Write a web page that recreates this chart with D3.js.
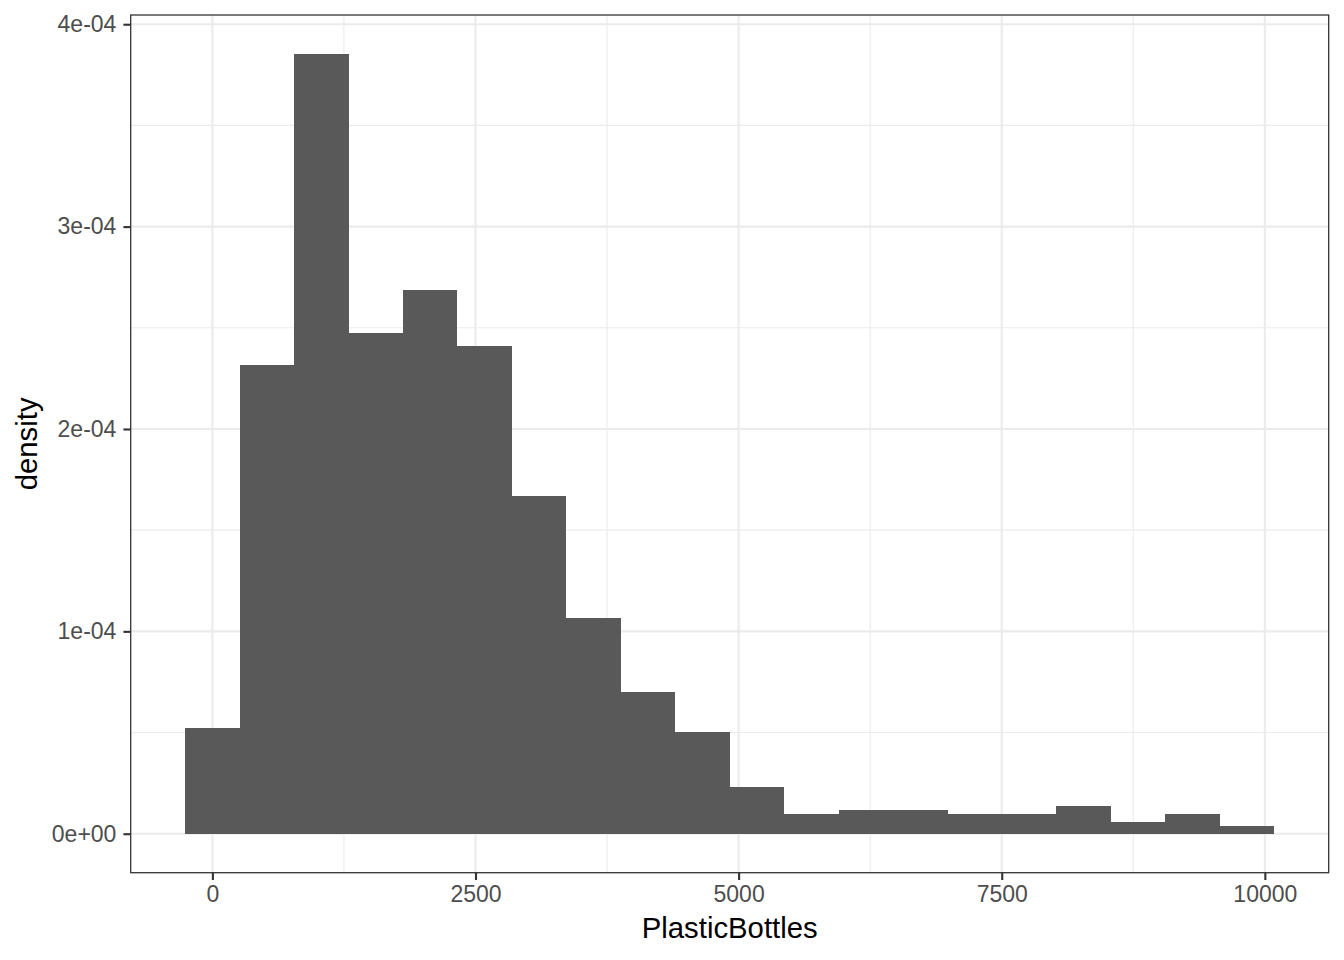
<!DOCTYPE html>
<html>
<head>
<meta charset="utf-8">
<script src="https://cdn.jsdelivr.net/npm/d3@7"></script>
<style>
  html, body { margin: 0; padding: 0; background: #fff; }
  svg { display: block; }
  text { font-family: "Liberation Sans", Arial, Helvetica, sans-serif; }
</style>
</head>
<body>
<svg id="chart" width="1344" height="960"></svg>
<script>
// ---- data ----
const binWidth = 517.4;           // PlasticBottles units per bin
const firstBinCenter = 0;
const densities = [
  0.523e-4, 2.318e-4, 3.853e-4, 2.472e-4, 2.688e-4,
  2.411e-4, 1.671e-4, 1.068e-4, 0.698e-4, 0.505e-4,
  0.229e-4, 0.095e-4, 0.115e-4, 0.115e-4, 0.095e-4,
  0.095e-4, 0.135e-4, 0.056e-4, 0.095e-4, 0.036e-4
];
const xTickValues = [0, 2500, 5000, 7500, 10000];
const xTickLabels = ["0", "2500", "5000", "7500", "10000"];
const xMinorValues = [1250, 3750, 6250, 8750];
const yTickValues = [0, 1e-4, 2e-4, 3e-4, 4e-4];
const yTickLabels = ["0e+00", "1e-04", "2e-04", "3e-04", "4e-04"];
const yMinorValues = [0.5e-4, 1.5e-4, 2.5e-4, 3.5e-4];
const xTitle = "PlasticBottles";
const yTitle = "density";

// ---- layout ----
const panel = { left: 130.7, top: 15, right: 1328.7, bottom: 872.7 };

const bins = densities.map((d, i) => {
  const c = firstBinCenter + i * binWidth;
  return { x0: c - binWidth / 2, x1: c + binWidth / 2, d };
});

const xMin = bins[0].x0, xMax = bins[bins.length - 1].x1;
const xPad = (xMax - xMin) * 0.05;
const x = d3.scaleLinear().domain([xMin - xPad, xMax + xPad]).range([panel.left, panel.right]);
const yMaxVal = d3.max(densities);
const yPad = yMaxVal * 0.05;
const y = d3.scaleLinear().domain([-yPad, yMaxVal + yPad]).range([panel.bottom, panel.top]);

const svg = d3.select("#chart");

// panel background
svg.append("rect").attr("x", panel.left).attr("y", panel.top)
  .attr("width", panel.right - panel.left).attr("height", panel.bottom - panel.top)
  .attr("fill", "#ffffff");

const grid = svg.append("g");
// minor grid
grid.selectAll("line.xminor").data(xMinorValues).join("line")
  .attr("x1", d => x(d)).attr("x2", d => x(d)).attr("y1", panel.top).attr("y2", panel.bottom)
  .attr("stroke", "#EBEBEB").attr("stroke-width", 1.1);
grid.selectAll("line.yminor").data(yMinorValues).join("line")
  .attr("y1", d => y(d)).attr("y2", d => y(d)).attr("x1", panel.left).attr("x2", panel.right)
  .attr("stroke", "#EBEBEB").attr("stroke-width", 1.1);
// major grid
grid.selectAll("line.xmajor").data(xTickValues).join("line")
  .attr("x1", d => x(d)).attr("x2", d => x(d)).attr("y1", panel.top).attr("y2", panel.bottom)
  .attr("stroke", "#EBEBEB").attr("stroke-width", 2.1);
grid.selectAll("line.ymajor").data(yTickValues).join("line")
  .attr("y1", d => y(d)).attr("y2", d => y(d)).attr("x1", panel.left).attr("x2", panel.right)
  .attr("stroke", "#EBEBEB").attr("stroke-width", 2.1);

// bars
svg.append("g").selectAll("rect").data(bins).join("rect")
  .attr("x", d => x(d.x0))
  .attr("width", d => x(d.x1) - x(d.x0))
  .attr("y", d => y(d.d))
  .attr("height", d => y(0) - y(d.d))
  .attr("fill", "#595959")
  .attr("shape-rendering", "crispEdges");

// panel border
svg.append("rect").attr("x", panel.left).attr("y", panel.top)
  .attr("width", panel.right - panel.left).attr("height", panel.bottom - panel.top)
  .attr("fill", "none").attr("stroke", "#333333").attr("stroke-width", 1.3);

// x axis
const xAxis = d3.axisBottom(x).tickValues(xTickValues)
  .tickFormat((d, i) => xTickLabels[i]).tickSize(7.3).tickPadding(6);
const gx = svg.append("g").attr("transform", `translate(0,${panel.bottom})`).call(xAxis);
gx.select(".domain").remove();
gx.selectAll(".tick line").attr("stroke", "#333333").attr("stroke-width", 2.1);
gx.selectAll(".tick text").attr("fill", "#4D4D4D").attr("font-size", 23)
  .attr("font-family", "'Liberation Sans', Arial, sans-serif");

// y axis
const yAxis = d3.axisLeft(y).tickValues(yTickValues)
  .tickFormat((d, i) => yTickLabels[i]).tickSize(7.3).tickPadding(7);
const gy = svg.append("g").attr("transform", `translate(${panel.left},0)`).call(yAxis);
gy.select(".domain").remove();
gy.selectAll(".tick line").attr("stroke", "#333333").attr("stroke-width", 2.1);
gy.selectAll(".tick text").attr("fill", "#4D4D4D").attr("font-size", 23)
  .attr("font-family", "'Liberation Sans', Arial, sans-serif");

// titles
svg.append("text").attr("x", (panel.left + panel.right) / 2).attr("y", 938.3)
  .attr("text-anchor", "middle").attr("font-size", 29.3).attr("fill", "#000")
  .text(xTitle);
svg.append("text")
  .attr("transform", `translate(36.5,${(panel.top + panel.bottom) / 2}) rotate(-90)`)
  .attr("text-anchor", "middle").attr("font-size", 29.3).attr("fill", "#000")
  .text(yTitle);
</script>
</body>
</html>
